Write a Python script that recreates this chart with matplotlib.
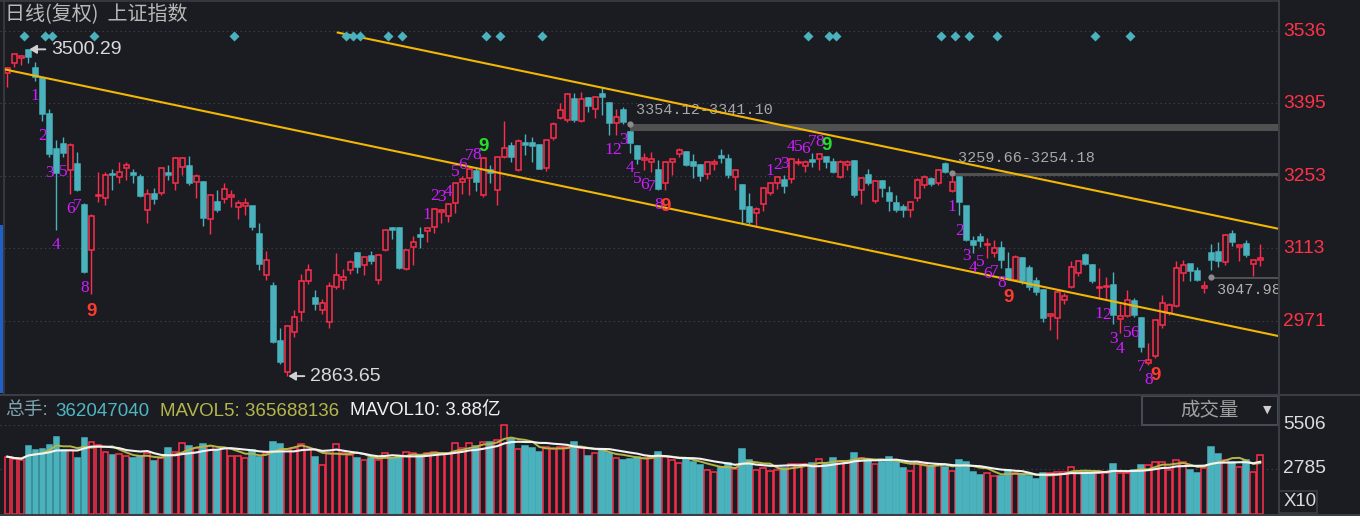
import numpy as np
import pandas as pd
import matplotlib
matplotlib.use("Agg")
import matplotlib.pyplot as plt
from matplotlib.patches import Rectangle
from matplotlib.lines import Line2D
from matplotlib.transforms import blended_transform_factory

# daily OHLC (index 0 = leftmost candle)
opens = [3455, 3474, 3483, 3499, 3463, 3444, 3375, 3307, 3316, 3265,
         3276, 3197, 3110, 3214, 3210, 3258, 3252, 3270, 3260, 3252,
         3187, 3219, 3221, 3260, 3239, 3271, 3273, 3242, 3242, 3169,
         3203, 3208, 3213, 3193, 3196, 3195, 3141, 3060, 3039, 2933,
         2872, 2950, 2989, 3049, 3015, 2993, 2969, 3037, 3050, 3070,
         3104, 3080, 3097, 3050, 3110, 3152, 3153, 3073, 3115, 3138,
         3147, 3155, 3184, 3175, 3200, 3242, 3249, 3264, 3216, 3265,
         3227, 3291, 3312, 3266, 3318, 3318, 3314, 3270, 3327, 3366,
         3362, 3403, 3361, 3405, 3385, 3414, 3396, 3356, 3383, 3339,
         3312, 3285, 3281, 3265, 3239, 3281, 3296, 3301, 3281, 3274,
         3257, 3277, 3292, 3286, 3252, 3236, 3194, 3182, 3199, 3221,
         3240, 3246, 3247, 3278, 3273, 3285, 3286, 3290, 3281, 3252,
         3275, 3283, 3227, 3255, 3205, 3244, 3221, 3200, 3194, 3188,
         3210, 3236, 3247, 3239, 3277, 3225, 3252, 3195, 3127, 3134,
         3119, 3103, 3113, 3072, 3051, 3093, 3074, 3048, 3031, 2981,
         2976, 3012, 3037, 3064, 3100, 3080, 3035, 3037, 3041, 2974,
         2981, 3010, 2976, 2890, 2902, 2963, 2986, 3000, 3064, 3082,
         3069, 3035, 3103, 3106, 3085, 3141, 3116, 3122, 3083, 3089]
highs = [3465, 3492, 3489, 3500.29, 3476, 3447, 3385, 3323, 3329, 3317,
         3300, 3200, 3179, 3262, 3262, 3268, 3281, 3281, 3268, 3258,
         3229, 3231, 3271, 3275, 3290, 3291, 3292, 3258, 3244, 3219,
         3227, 3240, 3227, 3206, 3210, 3196, 3161, 3108, 3047, 2958,
         2963, 2993, 3063, 3083, 3032, 3013, 3047, 3104, 3073, 3089,
         3106, 3097, 3108, 3101, 3149, 3154, 3154, 3110, 3136, 3155,
         3155, 3192, 3190, 3200, 3240, 3253, 3270, 3272, 3290, 3275,
         3292, 3361, 3320, 3325, 3335, 3330, 3315, 3325, 3359, 3396,
         3416, 3416, 3418, 3407, 3409, 3424, 3398, 3385, 3387, 3341.10,
         3314, 3298, 3301, 3285, 3283, 3287, 3309, 3303, 3296, 3276,
         3283, 3286, 3307, 3296, 3266, 3237, 3221, 3194, 3233, 3242,
         3253, 3255, 3288, 3288, 3285, 3298, 3298, 3291, 3288, 3285,
         3285, 3285, 3252, 3268, 3246, 3246, 3234, 3216, 3199, 3205,
         3249, 3255, 3252, 3268, 3281, 3254.18, 3253.5, 3196, 3137, 3142,
         3132, 3129, 3127, 3106, 3100, 3096, 3080, 3056, 3033, 2987,
         3031, 3025, 3087, 3090, 3103, 3083, 3074, 3057, 3067, 3005,
         3031, 3015, 2978, 2928, 2974, 3022, 3006, 3087, 3090, 3083,
         3077, 3047.98, 3122, 3124, 3141, 3148, 3120, 3129, 3090, 3122]
lows = [3426, 3466, 3469, 3474, 3439, 3361, 3290, 3148, 3291, 3219,
        3225, 3065, 3024, 3203, 3197, 3226, 3240, 3245, 3239, 3213,
        3161, 3199, 3216, 3245, 3227, 3255, 3236, 3210, 3156, 3141,
        3184, 3201, 3193, 3169, 3177, 3148, 3071, 3050, 2929, 2888,
        2863.65, 2940, 2971, 3044, 2993, 2985, 2958, 3034, 3034, 3063,
        3065, 3060, 3083, 3044, 3108, 3130, 3073, 3071, 3080, 3114,
        3124, 3143, 3161, 3164, 3182, 3218, 3216, 3225, 3212, 3239,
        3197, 3288, 3281, 3264, 3294, 3281, 3267, 3264, 3323, 3364,
        3359, 3359, 3359, 3379, 3366, 3372, 3333, 3333, 3354.12, 3299,
        3277, 3266, 3262, 3227, 3227, 3255, 3290, 3273, 3249, 3244,
        3247, 3265, 3278, 3249, 3227, 3161, 3160, 3155, 3186, 3216,
        3229, 3220, 3239, 3275, 3262, 3272, 3265, 3270, 3259, 3249,
        3265, 3213, 3199, 3236, 3200, 3213, 3186, 3184, 3174, 3173,
        3205, 3231, 3234, 3236, 3259.66, 3223, 3177, 3127, 3104, 3116,
        3093, 3096, 3074, 3050, 3048, 3044, 3031, 3022, 2970, 2953,
        2935, 3005, 3035, 3059, 3080, 3046, 3015, 3012, 2966, 2947,
        2978, 2978, 2911, 2885, 2898, 2957, 2983, 2999, 3048, 3048,
        3048, 3025, 3070, 3077, 3080, 3117, 3087, 3096, 3059, 3078]
closes = [3463, 3491, 3487, 3485, 3447, 3375, 3296, 3260, 3299, 3314,
          3226, 3067, 3175, 3217, 3255, 3256, 3262, 3275, 3255, 3214,
          3218, 3208, 3270, 3256, 3288, 3288, 3239, 3253, 3171, 3217,
          3188, 3229, 3216, 3200, 3200, 3154, 3083, 3089, 2930, 2891,
          2961, 2979, 3049, 3070, 3005, 3006, 3039, 3060, 3057, 3086,
          3076, 3096, 3088, 3099, 3148, 3149, 3075, 3109, 3125, 3135,
          3153, 3190, 3187, 3199, 3239, 3247, 3268, 3242, 3288, 3259,
          3291, 3309, 3290, 3322, 3314, 3312, 3268, 3323, 3355, 3383,
          3413, 3362, 3403, 3390, 3408, 3407, 3357, 3368, 3359, 3317,
          3286, 3288, 3286, 3229, 3281, 3286, 3305, 3275, 3273, 3253,
          3281, 3281, 3288, 3255, 3265, 3190, 3164, 3190, 3231, 3240,
          3251, 3234, 3286, 3281, 3281, 3281, 3296, 3281, 3262, 3281,
          3281, 3216, 3249, 3239, 3244, 3231, 3205, 3187, 3187, 3203,
          3246, 3252, 3238, 3266, 3262, 3242, 3203, 3129, 3119, 3126,
          3122, 3113, 3090, 3052, 3096, 3048, 3037, 3028, 2976, 2984,
          3028, 3020, 3077, 3088, 3083, 3048, 3038, 3040, 2983, 2981,
          3012, 2983, 2921, 2895, 2973, 3007, 3002, 3074, 3080, 3069,
          3051, 3039, 3090, 3087, 3139, 3124, 3119, 3100, 3089, 3093]
volumes = [3546, 3381, 3340, 4206, 3958, 4000, 4267, 4741, 3958, 3958,
           3443, 4679, 4473, 4267, 3855, 3649, 3690, 3587, 3443, 3546,
           3752, 3299, 3443, 4061, 3855, 4370, 4206, 4061, 4329, 4206,
           3958, 4061, 3587, 3587, 3443, 3958, 3546, 3752, 4473, 4329,
           4000, 4061, 4329, 3958, 3546, 3031, 3793, 4329, 3752, 3649,
           3443, 3340, 3443, 3340, 3793, 3443, 3546, 3855, 3793, 3649,
           3752, 3855, 3793, 3752, 4370, 4061, 4412, 4206, 4473, 4473,
           4577, 5504, 4618, 4000, 4206, 4061, 3855, 4164, 4000, 4164,
           4164, 4473, 4061, 3587, 3793, 3958, 3752, 3443, 3340, 3381,
           3546, 3443, 3546, 3855, 3546, 3340, 3175, 3443, 3237, 3031,
           2722, 2618, 2928, 3175, 2763, 4000, 3340, 2722, 2825, 2680,
           2722, 2825, 3093, 3093, 3093, 3134, 3381, 3093, 3443, 3299,
           3175, 3793, 3443, 3340, 3093, 3237, 3546, 3237, 2825, 2680,
           3237, 3093, 2969, 3031, 2928, 2680, 3340, 3237, 2618, 2412,
           2516, 2351, 2351, 2722, 2516, 2412, 2351, 2145, 2516, 2516,
           2618, 2618, 2887, 2680, 2618, 2516, 2557, 2516, 3093, 2516,
           2516, 2722, 3030, 3030, 3236, 3236, 2721, 3339, 3236, 2721,
           2515, 2824, 4164, 3710, 3339, 3236, 2927, 3339, 2618, 3620]

price_ticks = [3536, 3395, 3253, 3113, 2971]
vol_ticks = [5506, 2785]

# TD setup counts: index of the candle carrying "1"
buy_setups = [4, 86, 135, 156]
sell_setups = [60, 109]
# signal diamonds along the top
signal_days = [2, 5, 6, 12, 32, 48, 49, 50, 54, 56, 68, 70, 76,
               114, 117, 118, 133, 135, 137, 141, 155, 160]
# channel lines (candle index, price)
channel_upper = [(47.2, 3533), (181.5, 3151)]
channel_lower = [(-0.3, 3461), (181.5, 2942)]
# gaps: start candle, top, bottom, label
gaps = [(89, 3354.12, 3341.10, '3354.12-3341.10'),
        (135, 3259.66, 3254.18, '3259.66-3254.18'),
        (172, 3057.5, 3052.0, '3047.98')]

total_vol = 362047040
mavol5_val = 365688136
mavol10_txt = '3.88亿'

BG = '#1a1c22'
RED = '#ff2d4b'
TEAL = '#4ab2bd'
GOLD = '#f2b705'
GRID = '#41454d'
BORDER = '#3a3d44'
TDC = '#d01cff'

W, H = 1360, 516
plt.rcParams['font.family'] = ['Liberation Sans', 'Noto Sans CJK SC', 'DejaVu Sans']
fig = plt.figure(figsize=(W / 100, H / 100), dpi=100, facecolor=BG)


def px_axes(x0, y0, x1, y1):
    a = fig.add_axes([x0 / W, 1 - y1 / H, (x1 - x0) / W, (y1 - y0) / H])
    a.set_facecolor(BG)
    for s in a.spines.values():
        s.set_visible(False)
    a.set_xticks([])
    a.set_yticks([])
    return a


def ftext(x, y, s, **kw):
    fig.text(x / W, 1 - y / H, s, **kw)


def fline(x0, y0, x1, y1, **kw):
    fig.add_artist(Line2D([x0 / W, x1 / W], [1 - y0 / H, 1 - y1 / H],
                          transform=fig.transFigure, **kw))


n = len(closes)
idx = np.arange(n)

# ---------------- price panel ----------------
ax = px_axes(0, 0, 1278, 394)
ax.set_xlim(-1.043, 181.53)
ax.set_ylim(2828.8, 3596.4)
yt = blended_transform_factory(ax.transAxes, ax.transData)

for p in price_ticks:
    ax.axhline(p, color=GRID, lw=0.8, ls=(0, (1, 3)), zorder=0)
    ax.text(1.004, p, str(p), transform=yt, color='#ff3348', fontsize=13.8,
            va='center', ha='left')

x_right = ax.get_xlim()[1]
for start, top, bot, label in gaps:
    ax.add_patch(Rectangle((start, bot), x_right - start, top - bot,
                           facecolor='#505050', edgecolor='none', zorder=1))
    ax.plot(start, top, 'o', ms=3.5, color='#8c8c8c', zorder=2)
    if label.count('-'):
        ax.annotate(label, xy=(start, top), xytext=(4, 10.6), textcoords='offset points',
                    ha='left', va='center', color='#a8a8a8', fontsize=10.9,
                    family='Liberation Mono', zorder=2)
    else:
        ax.annotate(label, xy=(start, bot), xytext=(4, -7.5), textcoords='offset points',
                    ha='left', va='center', color='#b0b0b0', fontsize=10.9,
                    family='Liberation Mono', zorder=2)

bw = 0.72
for i in range(n):
    o, h, l, c = opens[i], highs[i], lows[i], closes[i]
    up = c >= o
    col = RED if up else TEAL
    top, bot = max(o, c), min(o, c)
    ax.plot([i, i], [top, h], color=col, lw=1.0, solid_capstyle='butt', zorder=3)
    ax.plot([i, i], [l, bot], color=col, lw=1.0, solid_capstyle='butt', zorder=3)
    ax.add_patch(Rectangle((i - bw / 2, bot), bw, max(top - bot, 0.6),
                           facecolor=BG if up else col, edgecolor=col, lw=1.1, zorder=3))

for pts in (channel_upper, channel_lower):
    xs, ys = zip(*pts)
    ax.plot(xs, ys, color=GOLD, lw=1.5, zorder=4)

# TD sequential setup numbers
for s in buy_setups:
    for k in range(9):
        i = s + k
        if k < 8:
            ax.annotate(str(k + 1), xy=(i, lows[i]), xytext=(0, -11), textcoords='offset points',
                        ha='center', va='center', color=TDC, fontsize=12.5,
                        family='Liberation Serif', zorder=5)
        else:
            ax.annotate('9', xy=(i, lows[i]), xytext=(0, -12.5), textcoords='offset points',
                        ha='center', va='center', color='#ff3b30', fontsize=13.5,
                        fontweight='bold', zorder=5)
for s in sell_setups:
    for k in range(9):
        i = s + k
        if k < 8:
            ax.annotate(str(k + 1), xy=(i, highs[i]), xytext=(0, 8), textcoords='offset points',
                        ha='center', va='center', color=TDC, fontsize=12.5,
                        family='Liberation Serif', zorder=5)
        else:
            ax.annotate('9', xy=(i, highs[i]), xytext=(0, 8), textcoords='offset points',
                        ha='center', va='center', color='#26e026', fontsize=13.5,
                        fontweight='bold', zorder=5)

dt = blended_transform_factory(ax.transData, ax.transAxes)
ax.plot(np.array(signal_days) + 0.4, np.full(len(signal_days), 0.9086), 'D',
        transform=dt, ms=5.5, color=TEAL, mec='none', zorder=5, clip_on=False)

imax = int(np.argmax(highs))
imin = int(np.argmin(lows))
for i, p in [(imax, highs[imax]), (imin, lows[imin])]:
    ax.annotate(f'{p:.2f}', xy=(i + 0.15, p), xytext=(15.5, 0), textcoords='offset points',
                ha='left', va='center', color='#dadada', fontsize=14, zorder=6,
                arrowprops=dict(arrowstyle='-|>,head_length=0.3,head_width=0.18',
                                color='#d0d0d0', lw=1.4, relpos=(0, 0.5),
                                shrinkA=2, shrinkB=0))

# ---------------- volume panel ----------------
axv = px_axes(0, 396, 1278, 514)
axv.set_xlim(ax.get_xlim())
axv.set_ylim(0, 7297)
vt = blended_transform_factory(axv.transAxes, axv.transData)
for v in vol_ticks:
    axv.axhline(v, color=GRID, lw=0.8, ls=(0, (1, 3)), zorder=0)
    axv.text(1.004, v, str(v), transform=vt, color='#dcdcdc', fontsize=13.8,
             va='center', ha='left')

for i in range(n):
    up = closes[i] >= opens[i]
    col = RED if up else TEAL
    axv.add_patch(Rectangle((i - 0.4, 0), 0.8, volumes[i],
                            facecolor=BG if up else col, edgecolor=col, lw=1.1, zorder=2))

vs = pd.Series(volumes, dtype=float)
axv.plot(idx, vs.rolling(5, min_periods=1).mean(), color='#b3b545', lw=1.4, zorder=3)
axv.plot(idx, vs.rolling(10, min_periods=1).mean(), color='#f2f2f2', lw=1.5, zorder=3)

# ---------------- texts & frame ----------------
ftext(5, 15, '日线(复权)  上证指数', color='#b8b8b8', fontsize=14.4, va='center',
      family=['Noto Sans CJK SC', 'DejaVu Sans'])
ftext(5, 411, '总手:', color='#7fa4ae', fontsize=13.5, va='center')
ftext(55, 411, str(total_vol), color='#4fb6c4', fontsize=13.5, va='center')
ftext(160, 411, f'MAVOL5: {mavol5_val}', color='#b5b64a', fontsize=13.5, va='center')
ftext(350, 411, f'MAVOL10: {mavol10_txt}', color='#f0f0f0', fontsize=13.5, va='center')

fig.add_artist(Rectangle((1142 / W, 1 - 425 / H), 136 / W, 29 / H, transform=fig.transFigure,
                         fill=False, edgecolor='#474a52', lw=1.5))
ftext(1210, 411, '成交量', color='#a0a0a0', fontsize=14, va='center', ha='center',
      family=['Noto Sans CJK SC', 'DejaVu Sans'])
ftext(1267, 410, '▼', color='#d0d0d0', fontsize=8, va='center', ha='center',
      family=['DejaVu Sans'])

fig.add_artist(Rectangle((1279 / W, 1 - 513 / H), 38 / W, 22 / H, transform=fig.transFigure,
                         fill=False, edgecolor=BORDER, lw=1.2))
ftext(1284, 502, 'X10', color='#dcdcdc', fontsize=13.4, va='center')

fline(1278.5, 0, 1278.5, 516, color=BORDER, lw=1.5)
fline(0, 394.5, 1360, 394.5, color=BORDER, lw=1.5)
fline(0, 515, 1360, 515, color=BORDER, lw=1.5)
fline(0, 0.5, 1278, 0.5, color=BORDER, lw=1.2)
fline(3.5, 0, 3.5, 394, color=BORDER, lw=1.2)
fig.add_artist(Rectangle((0, 1 - 393 / H), 3 / W, 168 / H, transform=fig.transFigure,
                         facecolor='#1f5fc8', edgecolor='none'))

fig.savefig('out.png', dpi=100, facecolor=BG)
